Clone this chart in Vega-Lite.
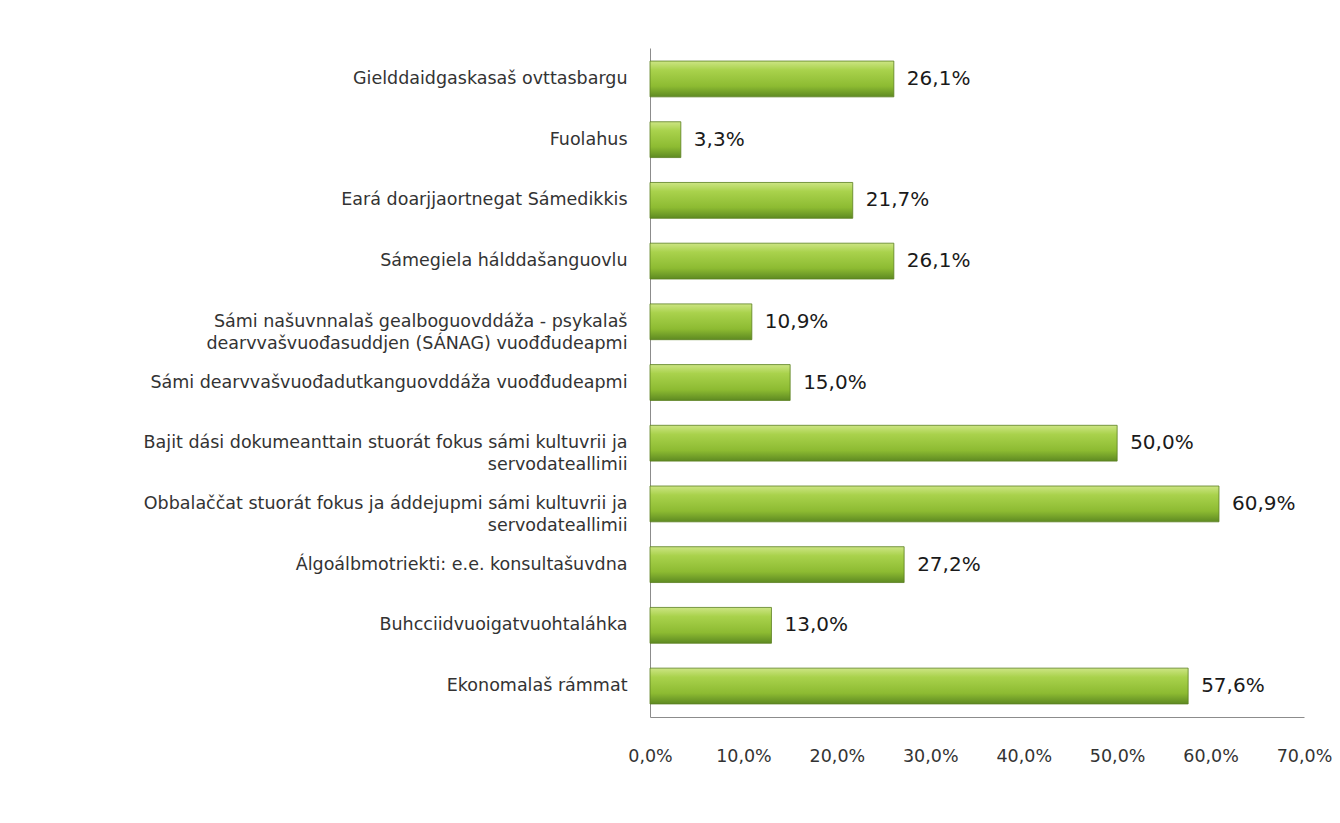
{
  "$schema": "https://vega.github.io/schema/vega-lite/v6.json",
  "autosize": {"type": "none"},
  "width": 654,
  "height": 669,
  "padding": {"left": 650, "top": 48, "right": 36, "bottom": 106},
  "background": "white",
  "config": {
    "view": {"stroke": null},
    "font": "DejaVu Sans",
    "locale": {"number": {"decimal": ",", "thousands": ".", "grouping": [3], "currency": ["", " €"]}}
  },
  "data": {
    "values": [
      {"category": "Gielddaidgaskasaš ovttasbargu", "value": 0.261},
      {"category": "Fuolahus", "value": 0.033},
      {"category": "Eará doarjjaortnegat Sámedikkis", "value": 0.217},
      {"category": "Sámegiela hálddašanguovlu", "value": 0.261},
      {"category": "Sámi našuvnnalaš gealboguovddáža - psykalaš|dearvvašvuođasuddjen (SÁNAG) vuođđudeapmi", "value": 0.109},
      {"category": "Sámi dearvvašvuođadutkanguovddáža vuođđudeapmi", "value": 0.15},
      {"category": "Bajit dási dokumeanttain stuorát fokus sámi kultuvrii ja|servodateallimii", "value": 0.5},
      {"category": "Obbalaččat stuorát fokus ja áddejupmi sámi kultuvrii ja|servodateallimii", "value": 0.609},
      {"category": "Álgoálbmotriekti: e.e. konsultašuvdna", "value": 0.272},
      {"category": "Buhcciidvuoigatvuohtaláhka", "value": 0.13},
      {"category": "Ekonomalaš rámmat", "value": 0.576}
    ]
  },
  "encoding": {
    "y": {
      "field": "category",
      "type": "nominal",
      "sort": null,
      "scale": {"paddingInner": 0.41, "paddingOuter": 0.215},
      "axis": {
        "title": null,
        "ticks": false,
        "domainColor": "#8c8c8c",
        "labelExpr": "split(datum.label, '|')",
        "labelFont": "DejaVu Sans",
        "labelFontSize": 17.5,
        "labelColor": "#333333",
        "labelPadding": 23,
        "labelLimit": 640,
        "labelLineHeight": 22
      }
    },
    "x": {
      "field": "value",
      "type": "quantitative",
      "scale": {"domain": [0, 0.7], "nice": false},
      "axis": {
        "title": null,
        "format": ".1%",
        "values": [0, 0.1, 0.2, 0.3, 0.4, 0.5, 0.6, 0.7],
        "ticks": false,
        "grid": false,
        "domainColor": "#8c8c8c",
        "labelFont": "DejaVu Sans",
        "labelFontSize": 17.5,
        "labelColor": "#333333",
        "labelPadding": 30,
        "labelFlush": false
      }
    }
  },
  "layer": [
    {
      "mark": {
        "type": "bar",
        "stroke": "#5a7f20",
        "strokeWidth": 0.8,
        "color": {
          "gradient": "linear",
          "x1": 0, "y1": 0, "x2": 0, "y2": 1,
          "stops": [
            {"offset": 0, "color": "#cde584"},
            {"offset": 0.25, "color": "#a9d24c"},
            {"offset": 0.7, "color": "#8dbb32"},
            {"offset": 1, "color": "#5e8a22"}
          ]
        }
      }
    },
    {
      "mark": {"type": "text", "align": "left", "dx": 13, "fontSize": 20, "color": "#1a1a1a", "font": "DejaVu Sans"},
      "encoding": {
        "text": {"field": "value", "type": "quantitative", "format": ".1%"}
      }
    }
  ]
}
